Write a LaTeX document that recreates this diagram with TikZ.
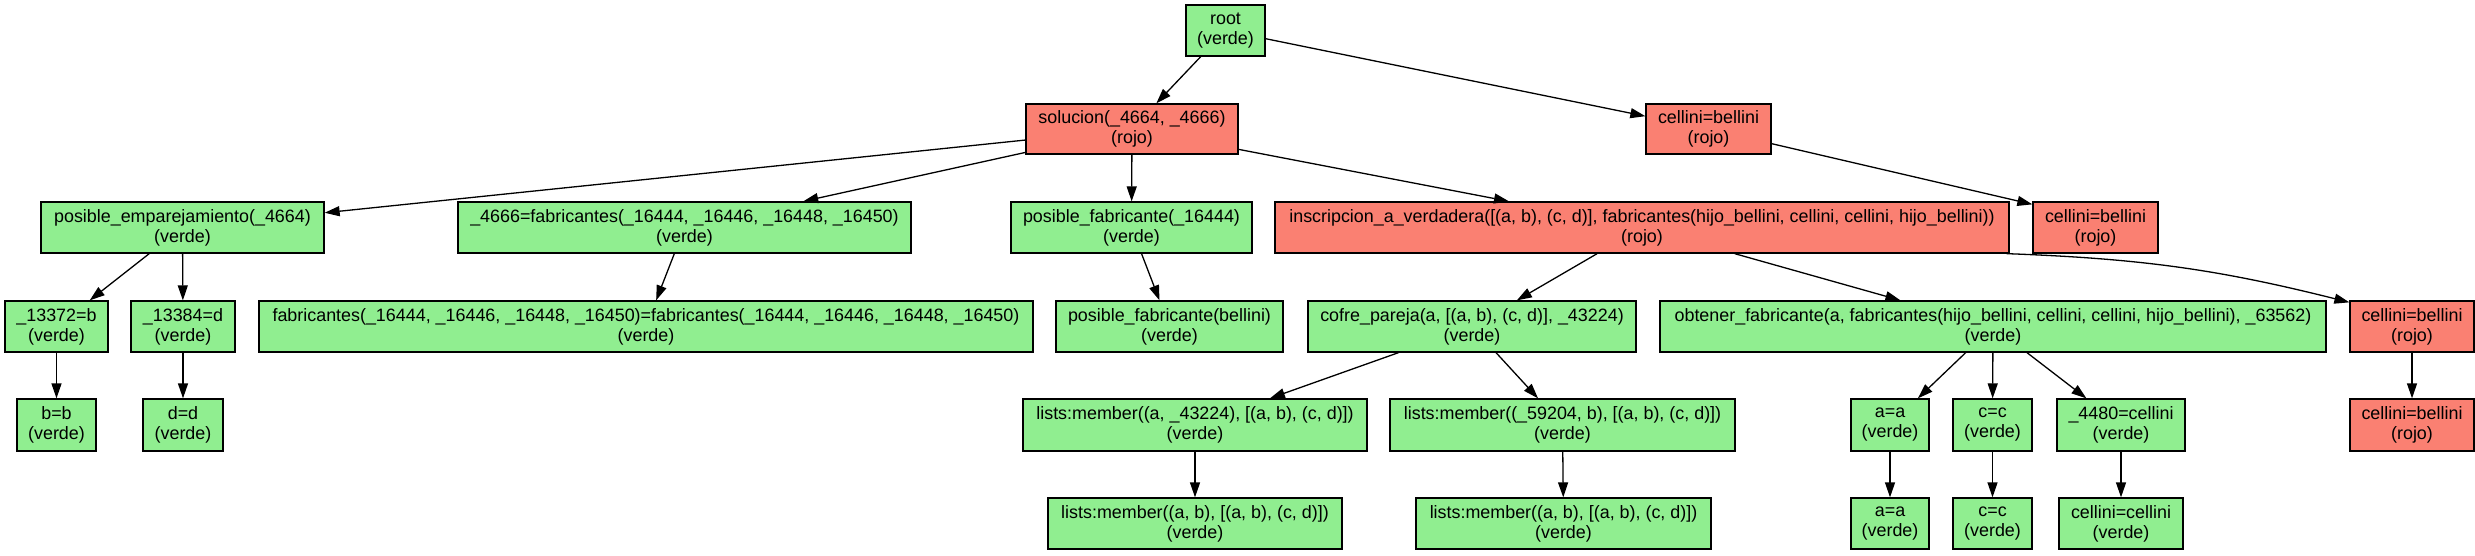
\documentclass[tikz,border=0pt]{standalone}
\usepackage{fontspec}
\setmainfont{Liberation Sans}
\usetikzlibrary{arrows.meta}
\definecolor{verde}{HTML}{90EE90}
\definecolor{rojo}{HTML}{FA8072}
\tikzset{
  box/.style={draw=black, line width=1.3pt, inner sep=0pt, align=center,
    font=\fontsize{17.9}{20}\selectfont},
  vbox/.style={box, fill=verde},
  rbox/.style={box, fill=rojo},
  edgeline/.style={-{Triangle[length=15pt,width=10pt]}, line width=1.3pt}
}
% name, style, x1, x2, y1, y2, text
\newcommand{\gvbox}[7]{%
  \node[#2, minimum width={(#4-#3)*1pt}, minimum height={(#6-#5)*1pt}]
    (#1) at ({(#3+#4)/2}, {-(#5+#6)/2}) {#7};}
\begin{document}
\begin{tikzpicture}[x=1pt,y=1pt]
\useasboundingbox (0,0) rectangle (2475,-555);
% row 1
\gvbox{root}{vbox}{1186}{1265}{5}{56}{root\\(verde)}
% row 2
\gvbox{sol}{rbox}{1026}{1238}{104}{154}{solucion(\_4664, \_4666)\\(rojo)}
\gvbox{cb1}{rbox}{1646}{1771}{104}{154}{cellini=bellini\\(rojo)}
% row 3
\gvbox{pe}{vbox}{41}{324}{202}{253}{posible\_emparejamiento(\_4664)\\(verde)}
\gvbox{ffab}{vbox}{458}{911}{202}{253}{\_4666=fabricantes(\_16444, \_16446, \_16448, \_16450)\\(verde)}
\gvbox{pf}{vbox}{1011}{1252}{202}{253}{posible\_fabricante(\_16444)\\(verde)}
\gvbox{insc}{rbox}{1275}{2009}{202}{253}{inscripcion\_a\_verdadera([(a, b), (c, d)], fabricantes(hijo\_bellini, cellini, cellini, hijo\_bellini))\\(rojo)}
\gvbox{cb2}{rbox}{2033}{2158}{202}{253}{cellini=bellini\\(rojo)}
% row 4
\gvbox{bx}{vbox}{5}{108}{301}{352}{\_13372=b\\(verde)}
\gvbox{dx}{vbox}{131}{235}{301}{352}{\_13384=d\\(verde)}
\gvbox{fab}{vbox}{259}{1033}{301}{352}{fabricantes(\_16444, \_16446, \_16448, \_16450)=fabricantes(\_16444, \_16446, \_16448, \_16450)\\(verde)}
\gvbox{pfb}{vbox}{1056}{1283}{301}{352}{posible\_fabricante(bellini)\\(verde)}
\gvbox{cofre}{vbox}{1308}{1636}{301}{352}{cofre\_pareja(a, [(a, b), (c, d)], \_43224)\\(verde)}
\gvbox{obt}{vbox}{1660}{2326}{301}{352}{obtener\_fabricante(a, fabricantes(hijo\_bellini, cellini, cellini, hijo\_bellini), \_63562)\\(verde)}
\gvbox{cb3}{rbox}{2350}{2474}{301}{352}{cellini=bellini\\(rojo)}
% row 5
\gvbox{bb}{vbox}{17}{96}{399}{451}{b=b\\(verde)}
\gvbox{dd}{vbox}{143}{223}{399}{451}{d=d\\(verde)}
\gvbox{lma}{vbox}{1023}{1367}{399}{451}{lists:member((a, \_43224), [(a, b), (c, d)])\\(verde)}
\gvbox{lmb}{vbox}{1390}{1735}{399}{451}{lists:member((\_59204, b), [(a, b), (c, d)])\\(verde)}
\gvbox{aaa}{vbox}{1851}{1929}{399}{451}{a=a\\(verde)}
\gvbox{cca}{vbox}{1953}{2032}{399}{451}{c=c\\(verde)}
\gvbox{xc}{vbox}{2057}{2185}{399}{451}{\_4480=cellini\\(verde)}
\gvbox{cb4}{rbox}{2350}{2474}{399}{451}{cellini=bellini\\(rojo)}
% row 6
\gvbox{lmc}{vbox}{1048}{1342}{498}{549}{lists:member((a, b), [(a, b), (c, d)])\\(verde)}
\gvbox{lmd}{vbox}{1416}{1711}{498}{549}{lists:member((a, b), [(a, b), (c, d)])\\(verde)}
\gvbox{aab}{vbox}{1851}{1929}{498}{549}{a=a\\(verde)}
\gvbox{ccb}{vbox}{1953}{2032}{498}{549}{c=c\\(verde)}
\gvbox{ccc}{vbox}{2059}{2183}{498}{549}{cellini=cellini\\(verde)}
% edges
\draw[edgeline] (root) -- (sol);
\draw[edgeline] (root) -- (cb1);
\draw[edgeline] (sol) -- (pe);
\draw[edgeline] (sol) -- (ffab);
\draw[edgeline] (sol) -- (pf);
\draw[edgeline] (sol) -- ([xshift=-133pt]insc.north);
\draw[edgeline] (cb1) -- ([yshift=-3pt]cb2.north west);
\draw[edgeline] (pe) -- (bx);
\draw[edgeline] (pe) -- (dx);
\draw[edgeline] (ffab) -- (fab);
\draw[edgeline] (pf) -- (pfb);
\draw[edgeline] (insc) -- (cofre);
\draw[edgeline] (insc) -- (obt);
\draw[edgeline] ([xshift=-3pt]insc.south east) to[bend left=6] ([yshift=-2pt]cb3.north west);
\draw[edgeline] (bx) -- (bb);
\draw[edgeline] (dx) -- (dd);
\draw[edgeline] (cofre) -- (lma);
\draw[edgeline] (cofre) -- (lmb);
\draw[edgeline] (lma) -- (lmc);
\draw[edgeline] (lmb) -- (lmd);
\draw[edgeline] (obt) -- (aaa);
\draw[edgeline] (obt) -- (cca);
\draw[edgeline] (obt) -- (xc);
\draw[edgeline] (aaa) -- (aab);
\draw[edgeline] (cca) -- (ccb);
\draw[edgeline] (xc) -- (ccc);
\draw[edgeline] (cb3) -- (cb4);
\end{tikzpicture}
\end{document}
